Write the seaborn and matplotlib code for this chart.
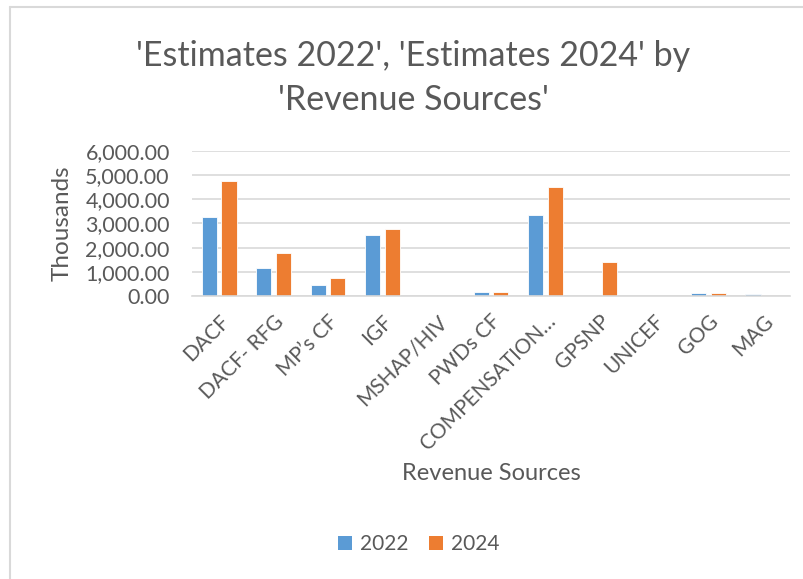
import matplotlib
matplotlib.use("Agg")
import matplotlib.pyplot as plt
from matplotlib.lines import Line2D
from matplotlib.patches import Patch
import seaborn as sns
import pandas as pd

categories = ["DACF", "DACF- RFG", "MP\u2019s CF", "IGF", "MSHAP/HIV", "PWDs CF",
              "COMPENSATION\u2026", "GPSNP", "UNICEF", "GOG", "MAG"]
est_2022 = [3250, 1160, 470, 2520, 0, 165, 3350, 0, 0, 120, 70]
est_2024 = [4770, 1760, 730, 2780, 0, 165, 4500, 1390, 0, 120, 0]
series = ["2022", "2024"]
colors = ["#5B9BD5", "#ED7D31"]
y_ticks = [0, 1000, 2000, 3000, 4000, 5000, 6000]

df = pd.DataFrame({
    "Revenue Sources": categories * 2,
    "Value": est_2022 + est_2024,
    "Year": [series[0]] * len(categories) + [series[1]] * len(categories),
})

sns.set_theme(style="white")
plt.rcParams["font.family"] = ["Lato", "DejaVu Sans"]
text_col = "#595959"

W, H = 804, 579
fig = plt.figure(figsize=(W / 100, H / 100), dpi=100)
ax = fig.add_axes([192 / W, 1 - 296 / H, (790 - 192) / W, (296 - 151) / H])

sns.barplot(data=df, x="Revenue Sources", y="Value", hue="Year",
            palette=colors, saturation=1, width=0.72, gap=0.23, ax=ax, legend=False,
            edgecolor="white", linewidth=0.6)

ax.set_ylim(0, 6000)
ax.set_yticks(y_ticks)
ax.set_yticklabels([f"{v:,.2f}" for v in y_ticks], color=text_col, fontsize=15.5)
ax.set_xlim(-0.5, len(categories) - 0.5)
ax.tick_params(axis="y", length=0, pad=16)
ax.tick_params(axis="x", length=0, pad=11)
ax.set_xticks(range(len(categories)))
ax.set_xticklabels(categories, rotation=45, ha="right", rotation_mode="anchor",
                   color=text_col, fontsize=15)
ax.yaxis.grid(True, color="#D9D9D9", linewidth=1.2)
ax.set_axisbelow(True)
for s in ["top", "right", "left"]:
    ax.spines[s].set_visible(False)
ax.spines["bottom"].set_color("#D9D9D9")
ax.spines["bottom"].set_linewidth(1.2)

ax.set_xlabel("")
ax.set_ylabel("Thousands", color=text_col, fontsize=17.5, labelpad=9)

fig.text(491 / W, 1 - 473 / H, "Revenue Sources", ha="center", va="center",
         color=text_col, fontsize=17)
fig.text(413 / W, 1 - 56 / H, "'Estimates 2022', 'Estimates 2024' by",
         ha="center", va="center", color=text_col, fontsize=24.5)
fig.text(413 / W, 1 - 100 / H, "'Revenue Sources'",
         ha="center", va="center", color=text_col, fontsize=24.5)

handles = [Patch(facecolor=c, edgecolor="none") for c in colors]
fig.legend(handles, series, loc="center", bbox_to_anchor=(419 / W, 1 - 544 / H),
           ncol=2, frameon=False, fontsize=15, labelcolor=text_col,
           handlelength=0.65, handleheight=0.65, handletextpad=0.4, columnspacing=1.0)

# chart area border
fig.add_artist(Line2D([10.5 / W, 1], [1 - 6.5 / H, 1 - 6.5 / H], color="#D9D9D9", lw=1.5))
fig.add_artist(Line2D([10.5 / W, 10.5 / W], [0, 1 - 6.5 / H], color="#D9D9D9", lw=1.5))

fig.savefig("out.png", dpi=100, facecolor="white")
